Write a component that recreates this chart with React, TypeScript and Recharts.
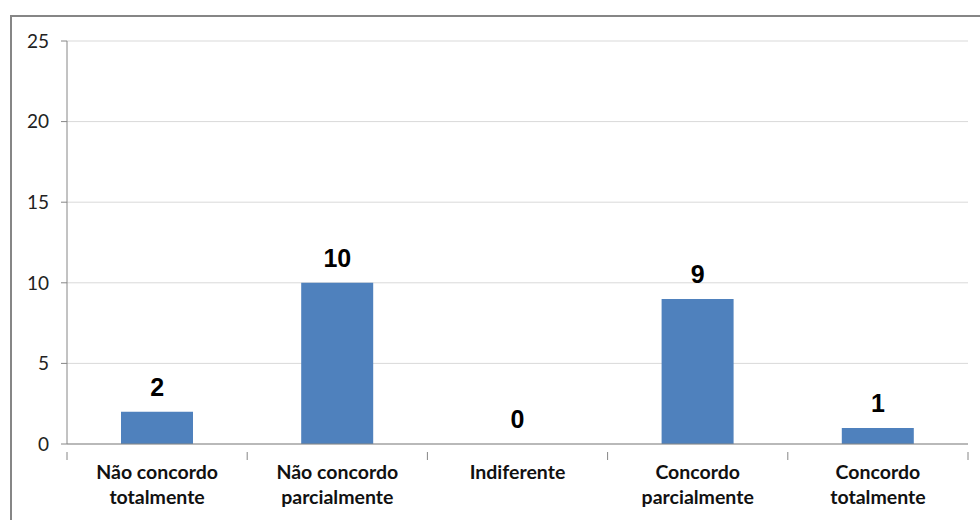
import { ComposedChart, Bar, Line, XAxis, YAxis, CartesianGrid, LabelList } from 'recharts';

const categorias = ['Não concordo\ntotalmente', 'Não concordo\nparcialmente', 'Indiferente', 'Concordo\nparcialmente', 'Concordo\ntotalmente'];
const respostas = [2, 10, 0, 9, 1];
const yTicks = [0, 5, 10, 15, 20, 25];

const data = categorias.map((name, i) => ({ name, value: respostas[i] }));

const W = 980;
const H = 520;
const X_H = 76;
const M = { top: 41, right: 12, bottom: 0, left: 10 };
const Y_W = 57;
const BAND = (W - M.left - M.right - Y_W) / categorias.length;

function XTick(props: any) {
  const { x, y, payload, index } = props;
  const lines = String(payload.value).split('\n');
  const left = x - BAND / 2;
  return (
    <g>
      <line x1={left} y1={y} x2={left} y2={y + 8} stroke="#868686" />
      {index === categorias.length - 1 && (
        <line x1={left + BAND} y1={y} x2={left + BAND} y2={y + 8} stroke="#868686" />
      )}
      <text x={x} y={y + 27} textAnchor="middle" fontFamily="Lato, sans-serif" fontWeight="bold" fontSize={19.5} fill="#111">
        {lines.map((l, i) => (
          <tspan key={i} x={x} dy={i === 0 ? 0 : 25}>{l}</tspan>
        ))}
      </text>
    </g>
  );
}

export default function App() {
  return (
    <div style={{ position: 'absolute', left: 0, top: 0, width: W, height: H, background: '#fff', overflow: 'hidden' }}>
      <div style={{ position: 'absolute', left: 10, top: 15, width: W, height: H, border: '2px solid #868686' }} />
      <div style={{ position: 'absolute', left: 0, top: 0 }}>
        <ComposedChart width={W} height={H} data={data} margin={M}>
          <CartesianGrid vertical={false} stroke="#d9d9d9" />
          <XAxis
            dataKey="name"
            stroke="#868686"
            tickLine={false}
            tick={<XTick />}
            interval={0}
            height={X_H}
          />
          <YAxis
            domain={[0, 25]}
            ticks={yTicks}
            width={Y_W}
            stroke="#868686"
            tickSize={6}
            tick={{ fill: '#222', fontSize: 19, fontFamily: 'Lato, sans-serif' }}
            tickMargin={12}
          />
          <Bar dataKey="value" fill="#4F81BD" barSize={72} isAnimationActive={false} />
          <Line dataKey="value" stroke="none" dot={false} activeDot={false} isAnimationActive={false}>
            <LabelList dataKey="value" position="top" offset={16} style={{ fontFamily: 'Liberation Sans, Arial, sans-serif', fontWeight: 'bold', fontSize: 25, fill: '#000' }} />
          </Line>
        </ComposedChart>
      </div>
    </div>
  );
}
